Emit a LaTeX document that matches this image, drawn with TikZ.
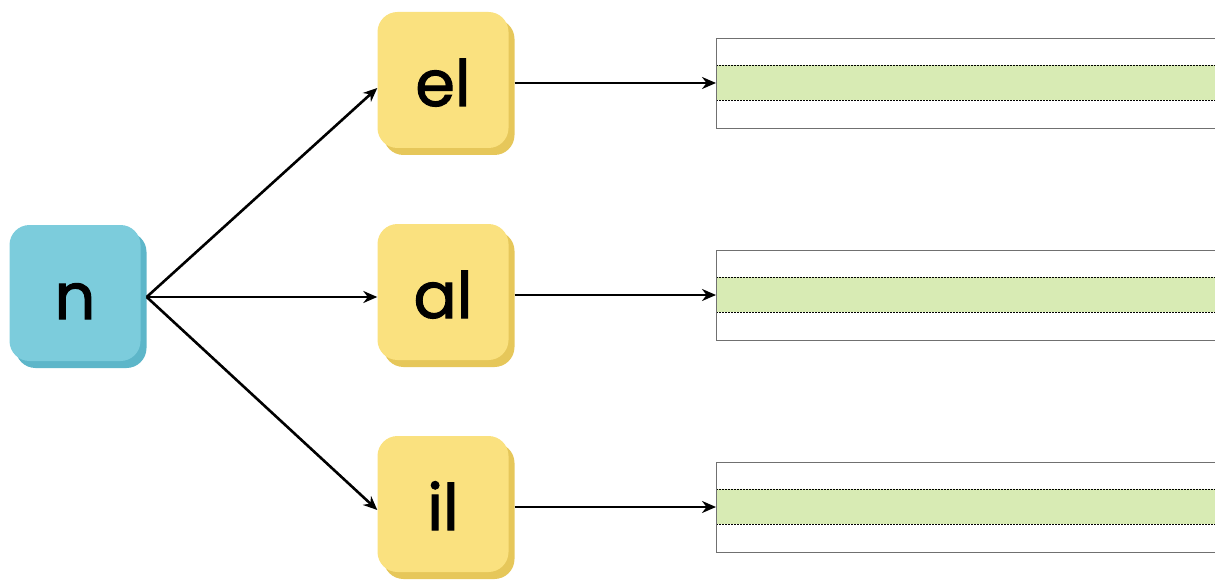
\documentclass[tikz,border=0pt]{standalone}
\usepackage{fontspec}
\setmainfont{Poppins}
\newfontfamily\tilefont{Poppins}[FakeBold=1.6]
\usetikzlibrary{arrows.meta,shadows}
\definecolor{bluef}{HTML}{7CCCDC}
\definecolor{blues}{HTML}{5DB6C9}
\definecolor{yelf}{HTML}{FAE17F}
\definecolor{yels}{HTML}{E6C75A}
\definecolor{bandg}{HTML}{D8EBB4}
\definecolor{rectgray}{HTML}{707070}
\tikzset{
  tile/.style={rounded corners=20pt, minimum width=131pt, minimum height=136pt,
    inner sep=0pt, text height=52pt, text depth=0pt,
    font=\tilefont\fontsize{64}{66}\selectfont, text=black},
  bluetile/.style={tile, fill=bluef, drop shadow={shadow xshift=6pt, shadow yshift=-7pt, opacity=1, fill=blues}},
  yeltile/.style={tile, fill=yelf, drop shadow={shadow xshift=6pt, shadow yshift=-7pt, opacity=1, fill=yels}},
  writebox/.style={draw=rectgray, line width=0.9pt, minimum width=540pt, minimum height=90pt, inner sep=0pt, anchor=west},
  conn/.style={line width=2.6pt, -{Stealth[length=14pt,width=12pt]}},
}
\begin{document}
\begin{tikzpicture}[x=1pt,y=-1pt]
\useasboundingbox (0,0) rectangle (1215,580);
\clip (0,0) rectangle (1215,580);
% writing boxes
\foreach \y/\nm in {83/r1, 295/r2, 507/r3}{
  \fill[bandg] (716,\y-18) rectangle (1230,\y+17);
  \draw[line width=0.7pt, dash pattern=on 2pt off 1pt] (716,\y-18) -- (1230,\y-18);
  \draw[line width=0.7pt, dash pattern=on 2pt off 1pt] (716,\y+17) -- (1230,\y+17);
  \node[writebox] (\nm) at (716,\y) {};
}
\node[bluetile] (n) at (75,293) {n};
\node[yeltile] (el) at (443,80) {el};
\node[yeltile] (al) at (443,292) {al};
\node[yeltile] (il) at (443,504) {il};
\draw[conn] ([xshift=6pt,yshift=-4pt]n.east) -- ([yshift=-8pt]el.west);
\draw[conn] ([xshift=6pt,yshift=-4pt]n.east) -- ([yshift=-5pt]al.west);
\draw[conn] ([xshift=6pt,yshift=-4pt]n.east) -- ([yshift=-6pt]il.west);
\draw[conn] ([xshift=6pt,yshift=-3pt]el.east) -- (r1.west);
\draw[conn] ([xshift=6pt,yshift=-3pt]al.east) -- (r2.west);
\draw[conn] ([xshift=6pt,yshift=-3pt]il.east) -- (r3.west);
\end{tikzpicture}
\end{document}
